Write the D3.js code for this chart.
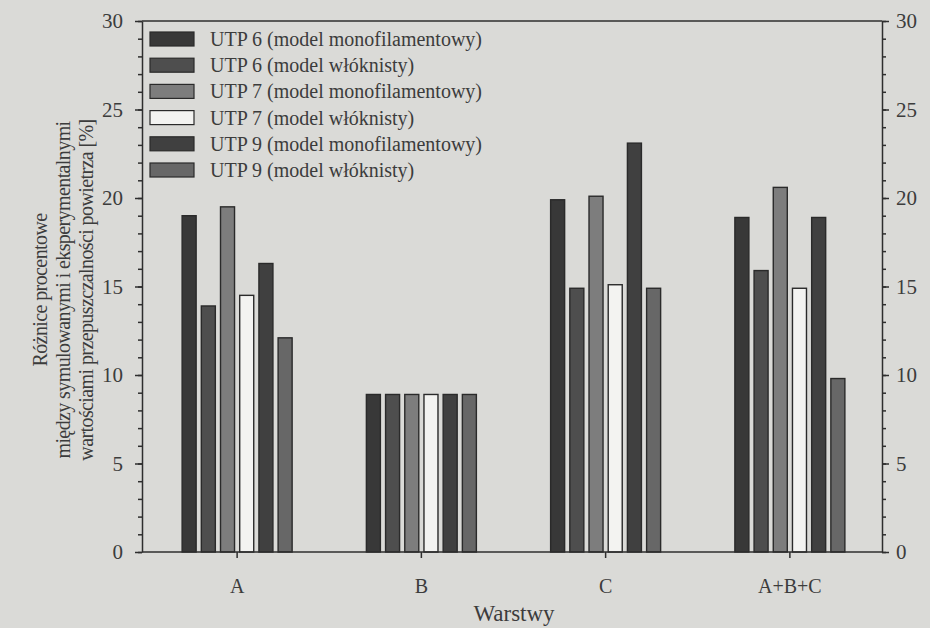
<!DOCTYPE html>
<html>
<head>
<meta charset="utf-8">
<script src="https://cdn.jsdelivr.net/npm/d3@7"></script>
<style>
  html, body { margin: 0; padding: 0; background: #dadad7; }
  svg { display: block; }
  text { font-family: "Liberation Serif", "DejaVu Serif", serif; fill: #3c3c3c; }
</style>
</head>
<body>
<svg id="chart" width="930" height="628"></svg>
<script>
// warstwy (kategorie na osi X)
const categories = ['A', 'B', 'C', 'A+B+C'];

// serie
const seriesNames = [
  'UTP 6 (model monofilamentowy)',
  'UTP 6 (model włóknisty)',
  'UTP 7 (model monofilamentowy)',
  'UTP 7 (model włóknisty)',
  'UTP 9 (model monofilamentowy)',
  'UTP 9 (model włóknisty)'
];

// wartości [%] dla A, B, C, A+B+C
const utp6Mono = [19.0, 8.9, 19.9, 18.9];
const utp6Wlok = [13.9, 8.9, 14.9, 15.9];
const utp7Mono = [19.5, 8.9, 20.1, 20.6];
const utp7Wlok = [14.5, 8.9, 15.1, 14.9];
const utp9Mono = [16.3, 8.9, 23.1, 18.9];
const utp9Wlok = [12.1, 8.9, 14.9, 9.8];

const majorTicks = [0, 5, 10, 15, 20, 25, 30];

const seriesValues = [utp6Mono, utp6Wlok, utp7Mono, utp7Wlok, utp9Mono, utp9Wlok];
const colors = ['#383838', '#4e4e4e', '#7d7d7d', '#f3f3f1', '#404040', '#676767'];

const svg = d3.select('#chart');
const mLeft = 142, mRight = 882, mTop = 21, mBottom = 552;

const y = d3.scaleLinear().domain([0, 30]).range([mBottom, mTop]);
const x = d3.scaleBand().domain(categories).range([145, 882]).padding(0);
const xs = d3.scaleBand().domain(d3.range(seriesNames.length)).range([-55, 55]).paddingInner(0.27);

// ramka górna
svg.append('line')
  .attr('x1', mLeft).attr('x2', mRight).attr('y1', mTop).attr('y2', mTop)
  .attr('stroke', '#2e2e2e').attr('stroke-width', 1.5);

// słupki
const rows = [];
categories.forEach((c, ci) => {
  seriesValues.forEach((vals, si) => rows.push({cat: c, s: si, v: vals[ci]}));
});

svg.append('g').selectAll('rect')
  .data(rows)
  .join('rect')
  .attr('x', d => x(d.cat) + x.bandwidth() / 2 + xs(d.s))
  .attr('y', d => y(d.v))
  .attr('width', xs.bandwidth())
  .attr('height', d => y(0) - y(d.v))
  .attr('fill', d => colors[d.s])
  .attr('stroke', '#2a2a2a')
  .attr('stroke-width', 1.4);

// osie Y
function styleAxis(g) {
  g.selectAll('path, line').attr('stroke', '#2e2e2e').attr('stroke-width', 1.5);
  g.selectAll('text').attr('font-size', 21).attr('fill', '#444')
    .attr('font-family', '"Liberation Serif", serif');
}

svg.append('g').attr('transform', `translate(${mLeft},0)`)
  .call(d3.axisLeft(y).tickValues(majorTicks).tickSize(7).tickPadding(12).tickSizeOuter(0))
  .call(styleAxis);
svg.append('g').attr('transform', `translate(${mLeft},0)`)
  .call(d3.axisLeft(y).tickValues(d3.range(0, 31)).tickSize(4).tickFormat(''))
  .call(g => g.select('.domain').remove())
  .call(styleAxis);

svg.append('g').attr('transform', `translate(${mRight},0)`)
  .call(d3.axisRight(y).tickValues(majorTicks).tickSize(7).tickPadding(7).tickSizeOuter(0))
  .call(styleAxis);
svg.append('g').attr('transform', `translate(${mRight},0)`)
  .call(d3.axisRight(y).tickValues(d3.range(0, 31)).tickSize(4).tickFormat(''))
  .call(g => g.select('.domain').remove())
  .call(styleAxis);

// oś X
svg.append('g').attr('transform', `translate(0,${mBottom})`)
  .call(d3.axisBottom(x).tickSize(6).tickPadding(21).tickSizeOuter(0))
  .call(g => g.select('.domain').attr('d', `M${mLeft},0H${mRight}`))
  .call(styleAxis)
  .call(g => g.selectAll('text').attr('font-size', 20));

// tytuły osi
svg.append('text')
  .attr('x', 514).attr('y', 621)
  .attr('text-anchor', 'middle')
  .attr('font-size', 23)
  .attr('fill', '#444')
  .text('Warstwy');

const yTitle = [
  'Różnice procentowe',
  'między symulowanymi i eksperymentalnymi',
  'wartościami przepuszczalności powietrza [%]'
];
svg.append('g')
  .attr('transform', 'translate(0,290) rotate(-90)')
  .selectAll('text')
  .data(yTitle)
  .join('text')
  .attr('x', 0)
  .attr('y', (d, i) => 47 + i * 23)
  .attr('text-anchor', 'middle')
  .attr('font-size', 20)
  .attr('letter-spacing', -0.6)
  .attr('fill', '#444')
  .text(d => d);

// legenda
const legend = svg.append('g').attr('transform', 'translate(150,32)');
const item = legend.selectAll('g')
  .data(seriesNames)
  .join('g')
  .attr('transform', (d, i) => `translate(0,${i * 26.2})`);

item.append('rect')
  .attr('width', 44).attr('height', 14)
  .attr('fill', (d, i) => colors[i])
  .attr('stroke', '#2a2a2a').attr('stroke-width', 1.2);

item.append('text')
  .attr('x', 60).attr('y', 14)
  .attr('font-size', 20)
  .attr('fill', '#4a4a4a')
  .text(d => d);
</script>
</body>
</html>
